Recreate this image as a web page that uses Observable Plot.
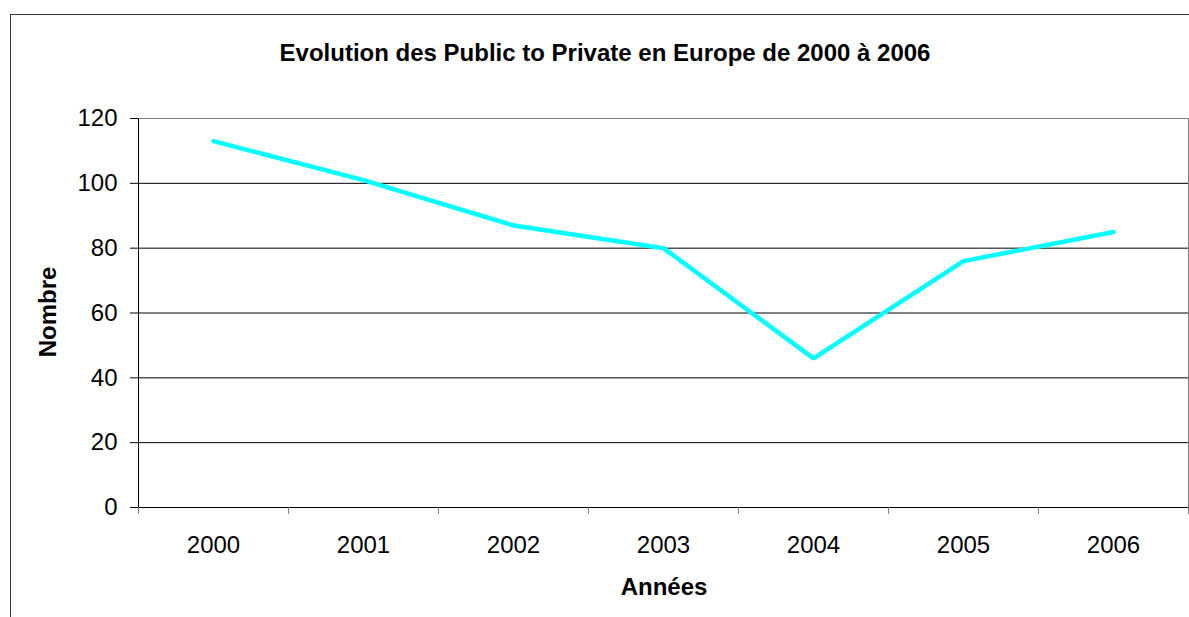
<!DOCTYPE html>
<html>
<head>
<meta charset="utf-8">
<script src="https://cdn.jsdelivr.net/npm/d3@7"></script>
<script src="https://cdn.jsdelivr.net/npm/@observablehq/plot@0.6"></script>
<style>
  html, body { margin: 0; padding: 0; background: #fff; overflow: hidden; }
  #wrap { position: relative; width: 1189px; height: 617px; overflow: hidden; font-family: 'Liberation Sans', Arial, sans-serif; }
  #border { position: absolute; left: 10px; top: 14px; width: 1300px; height: 800px; border: 1px solid #333; box-sizing: border-box; }
  .lbl { position: absolute; font-weight: bold; font-size: 24px; color: #000; white-space: nowrap; line-height: 1; }
  #title { left: 605px; top: 41px; transform: translateX(-50%); }
  #ylab { left: 48px; top: 312px; transform: translate(-50%, -50%) rotate(-90deg); }
  #xlab { left: 664px; top: 575px; transform: translateX(-50%); }
  #chart { position: absolute; left: 0; top: 0; }
</style>
</head>
<body>
<div id="wrap">
  <div id="border"></div>
  <div id="chart"></div>
  <div id="title" class="lbl">Evolution des Public to Private en Europe de 2000 à 2006</div>
  <div id="ylab" class="lbl">Nombre</div>
  <div id="xlab" class="lbl">Années</div>
</div>
<script>
const years = [2000, 2001, 2002, 2003, 2004, 2005, 2006];
const counts = [113, 101, 87, 80, 46, 76, 85];
const yTicks = [0, 20, 40, 60, 80, 100, 120];

const data = years.map((y, i) => ({year: y, count: counts[i]}));
const xMin = years[0] - 0.5;
const xMax = years[years.length - 1] + 0.5;
const boundaries = [...years.map(y => y - 0.5), xMax];
const gridTicks = yTicks.slice(1, -1);

const chart = Plot.plot({
  width: 1189,
  height: 617,
  marginLeft: 138,
  marginRight: 1,
  marginTop: 118,
  marginBottom: 110,
  style: {fontFamily: "'Liberation Sans', Arial, sans-serif", background: "transparent", color: "#000"},
  x: {type: "linear", domain: [xMin, xMax]},
  y: {domain: [0, 120]},
  marks: [
    Plot.frame({stroke: "#808080", strokeWidth: 1}),
    Plot.gridY(gridTicks, {stroke: "#000", strokeOpacity: 1, strokeWidth: 1}),
    Plot.ruleY([0], {stroke: "#000", strokeWidth: 1}),
    Plot.ruleX([xMin], {stroke: "#000", strokeWidth: 1}),
    Plot.axisY(yTicks, {tickSize: 8, tickPadding: 13, fontSize: 24, stroke: "#000", label: null, tickFormat: d => String(d)}),
    Plot.axisX(boundaries, {tickSize: 7, tickFormat: () => "", stroke: "#808080", label: null}),
    Plot.axisX(years, {tickSize: 0, tickPadding: 28, fontSize: 24, label: null, tickFormat: d => String(d)}),
    Plot.line(data, {x: "year", y: "count", stroke: "#00FFFF", strokeWidth: 4.5, strokeLinecap: "round", strokeLinejoin: "miter"})
  ]
});
document.getElementById("chart").appendChild(chart);
</script>
</body>
</html>
